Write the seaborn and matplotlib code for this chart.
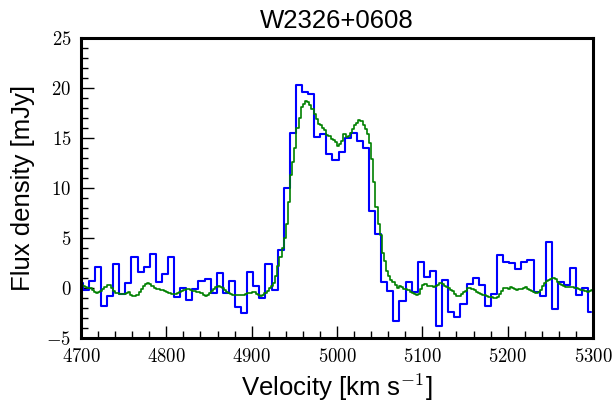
import numpy as np
import pandas as pd
import matplotlib
matplotlib.use("Agg")
import matplotlib.pyplot as plt
import seaborn as sns
from matplotlib.ticker import MultipleLocator, FuncFormatter

# blue spectrum: coarse channels (~7.1 km/s), flux in mJy
blue_v_start = 4698.4
blue_dv = 7.14
blue_flux = [
    0.5, -0.25, 0.65, 2.1, -1.85, -0.8, 2.35, -0.6, 0.53, 3.13,
    1.6, 2.07, 3.35, 0.6, 1.35, 3.05, -0.87, -0.05, -1.25, -0.1,
    0.73, 0.85, -0.55, 1.53, -0.55, 0.7, -1.95, -2.5, 1.55, 0.15,
    -0.97, 2.38, -0.25, 3.75, 10.0, 15.55, 20.3, 19.65, 19.45, 15.13,
    15.4, 13.45, 12.8, 13.6, 15.0, 15.55, 14.75, 14.05, 7.7, 5.4,
    0.6, -0.3, -3.3, -1.28, 0.63, -0.4, 2.57, 1.13, 1.65, -3.85,
    0.75, -2.4, -2.95, -1.65, 0.35, 1.0, 0.3, -1.85, -0.6, 3.25,
    2.55, 2.45, 1.87, 2.55, 2.8, -0.45, -0.85, 4.63, -2.1, 0.63,
    0.3, 1.97, -0.75, -0.03, -2.43,
]

# green spectrum: fine channels (2.5 km/s), flux in mJy
green_v_start = 4701.25
green_dv = 2.5
green_flux = [
    0.3, 0.2, 0.05, 0.0, -0.05, -0.2, -0.4, -0.55, -0.45, -0.3, -0.15, 0.1,
    0.3, 0.3, 0.0, -0.35, -0.5, -0.55, -0.6, -0.65, -0.6, -0.5, -0.45, -0.7,
    -0.85, -0.8, -0.7, -0.4, -0.1, 0.15, 0.35, 0.45, 0.4, 0.15, 0.0, -0.1,
    -0.15, -0.2, -0.25, -0.35, -0.45, -0.55, -0.6, -0.65, -0.6, -0.5, -0.4, -0.3,
    -0.25, -0.15, -0.1, -0.2, -0.3, -0.35, -0.4, -0.45, -0.55, -0.7, -0.8, -0.7,
    -0.55, -0.3, -0.1, 0.05, 0.15, 0.05, -0.05, -0.2, -0.4, -0.5, -0.6, -0.7,
    -0.75, -0.75, -0.7, -0.75, -0.7, -0.6, -0.5, -0.5, -0.4, -0.45, -0.6, -0.75,
    -0.8, -0.75, -0.55, -0.3, 0.0, 0.2, 0.5, 1.2, 2.2, 3.1, 4.0, 5.0,
    6.4, 8.6, 11.3, 12.6, 14.0, 16.0, 17.0, 18.1, 18.4, 18.7, 18.6, 18.35,
    17.95, 17.45, 16.95, 16.45, 16.3, 16.0, 15.8, 15.3, 15.2, 14.95, 14.8, 14.6,
    14.2, 14.45, 14.7, 15.4, 15.1, 15.25, 15.55, 15.95, 16.35, 16.55, 16.8, 16.75,
    16.3, 15.95, 15.45, 14.5, 12.9, 10.6, 8.1, 6.35, 5.3, 3.5, 2.65, 1.65,
    1.2, 0.8, 0.6, 0.25, -0.05, 0.2, 0.05, -0.15, -0.1, -0.25, -0.4, -0.5,
    -0.6, -0.7, -0.65, -0.1, 0.3, 0.35, 0.2, 0.15, 0.15, 0.05, 0.2, 0.3,
    0.45, 0.35, 0.15, 0.05, -0.05, -0.25, -0.35, -0.6, -0.8, -0.85, -0.65, -0.45,
    -0.3, -0.05, -0.05, -0.15, -0.25, -0.4, -0.55, -0.65, -0.7, -0.75, -0.85, -0.9,
    -0.95, -1.05, -1.0, -0.9, -0.6, -0.35, -0.05, 0.0, -0.15, 0.05, 0.0, -0.15,
    -0.2, -0.15, -0.1, 0.0, 0.05, -0.15, -0.25, -0.3, -0.45, -0.5, -0.45, -0.25,
    0.2, 0.45, 0.65, 0.8, 0.85, 0.95, 0.85, 0.55, 0.4, 0.25, 0.15, 0.1,
    0.05, 0.1, 0.05, 0.0, -0.05, -0.15, -0.25, -0.25, -0.3, -0.4, -0.3, -0.2,
]

title = "W2326+0608"
xlabel = r"Velocity [km s$^{\mathsf{-1}}$]"
ylabel = "Flux density [mJy]"

blue = pd.DataFrame({
    "v": blue_v_start + blue_dv * np.arange(len(blue_flux)),
    "flux": blue_flux,
})
green = pd.DataFrame({
    "v": green_v_start + green_dv * np.arange(len(green_flux)),
    "flux": green_flux,
})

sns.set_style("ticks")
plt.rcParams["font.family"] = ["Liberation Sans", "DejaVu Sans"]
plt.rcParams["mathtext.fontset"] = "cm"
# seaborn greys the text; the original is plain black
for key in ["text.color", "axes.labelcolor", "xtick.color", "ytick.color"]:
    plt.rcParams[key] = "black"

fig = plt.figure(figsize=(6.15, 4.03), dpi=100)
ax = fig.add_axes([0.1317, 0.1613, 0.8325, 0.7444])

sns.lineplot(data=blue, x="v", y="flux", ax=ax, color="#0000ff",
             linewidth=1.5, drawstyle="steps-mid", errorbar=None)
sns.lineplot(data=green, x="v", y="flux", ax=ax, color="#008000",
             linewidth=1.2, drawstyle="steps-mid", errorbar=None)

ax.set_xlim(4700, 5300)
ax.set_ylim(-5, 25)
ax.xaxis.set_major_locator(MultipleLocator(100))
ax.xaxis.set_minor_locator(MultipleLocator(20))
ax.yaxis.set_major_locator(MultipleLocator(5))
ax.yaxis.set_minor_locator(MultipleLocator(1))
fmt = FuncFormatter(lambda val, pos: r"$%d$" % round(val))
ax.xaxis.set_major_formatter(fmt)
ax.yaxis.set_major_formatter(fmt)

ax.tick_params(which="major", direction="in", length=9, width=1.0,
               labelsize=13.5, pad=7, top=False, right=False)
ax.tick_params(which="minor", direction="in", length=5, width=1.0,
               top=False, right=False)
for sp in ax.spines.values():
    sp.set_linewidth(2.2)
    sp.set_color("black")

ax.set_title(title, fontsize=18.5, pad=7)
ax.set_xlabel(xlabel, fontsize=18.5, labelpad=4)
ax.set_ylabel(ylabel, fontsize=18.5, labelpad=8)

fig.savefig("out.png", dpi=100)
